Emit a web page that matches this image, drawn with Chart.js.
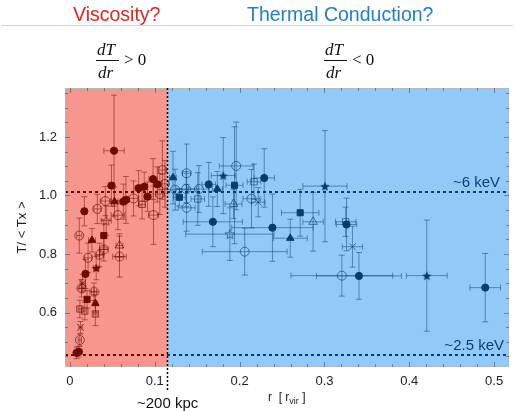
<!DOCTYPE html>
<html>
<head>
<meta charset="utf-8">
<script src="https://cdn.jsdelivr.net/npm/chart.js@4.4.0/dist/chart.umd.min.js"></script>
<style>
  body { margin: 0; background: #fff; font-family: "Liberation Sans", Arial, sans-serif; }
  #wrap { position: relative; width: 515px; height: 411px; overflow: hidden; }
  canvas { position: absolute; left: 0; top: 0; }
  .lbl { position: absolute; white-space: nowrap; line-height: 1; }
  .serif { font-family: "Liberation Serif", "Times New Roman", serif; font-size: 17px; color: #111; }
  .it { font-style: italic; }
  .bar { position: absolute; height: 1px; background: #111; }
</style>
</head>
<body>
<div id="wrap">
  <canvas id="chart" width="515" height="411"></canvas>
  <div class="lbl" style="left:73px;top:5px;font-size:19.5px;color:#e3261c;">Viscosity?</div>
  <div class="lbl" style="left:247px;top:5px;font-size:19.5px;color:#1f80c2;">Thermal Conduction?</div>
  <div style="position:absolute;left:2px;top:25px;width:511px;height:1px;background:#d0d0d0;"></div>

  <div class="lbl serif it" style="left:97px;top:41px;">dT</div>
  <div class="bar" style="left:96px;top:60px;width:23px;"></div>
  <div class="lbl serif it" style="left:98px;top:64px;">dr</div>
  <div class="lbl serif" style="left:124px;top:51px;">&gt; 0</div>

  <div class="lbl serif it" style="left:325px;top:41px;">dT</div>
  <div class="bar" style="left:324px;top:60px;width:23px;"></div>
  <div class="lbl serif it" style="left:326px;top:64px;">dr</div>
  <div class="lbl serif" style="left:352px;top:51px;">&lt; 0</div>

  <div class="lbl" style="left:268px;top:391px;font-size:12px;color:#222;">r &nbsp;[ r<sub style="font-size:9px;">vir</sub> ]</div>
  <div class="lbl" style="left:137px;top:395px;font-size:15px;color:#111;">~200 kpc</div>
</div>
<script>
// r in units of r_vir, T / <Tx>, and symmetric errors: [r, T, rErr, TErr]
const filledCircles = [
  [0.052, 1.153, 0.012, 0.19], [0.049, 1.034, 0.004, 0.07], [0.017, 0.946, 0.003, 0.05],
  [0.063, 0.979, 0.004, 0.06], [0.066, 0.985, 0.004, 0.08], [0.081, 1.025, 0.004, 0.06],
  [0.0876, 1.030, 0.004, 0.05], [0.0915, 0.996, 0.004, 0.05], [0.098, 1.056, 0.005, 0.07],
  [0.103, 1.038, 0.004, 0.06], [0.0183, 0.732, 0.003, 0.05], [0.0078, 0.462, 0.003, 0.02],
  [0.0105, 0.466, 0.004, 0.018],
  [0.1636, 1.038, 0.008, 0.075], [0.1685, 0.910, 0.035, 0.085], [0.229, 1.060, 0.012, 0.1],
  [0.2387, 0.890, 0.048, 0.115], [0.326, 0.901, 0.012, 0.09], [0.3407, 0.725, 0.05, 0.08],
  [0.4895, 0.685, 0.018, 0.117]
];
const filledTriangles = [
  [0.0526, 0.979, 0.004, 0.05], [0.026, 0.847, 0.004, 0.04], [0.030, 0.631, 0.002, 0.03],
  [0.1215, 1.061, 0.004, 0.09], [0.1737, 1.022, 0.006, 0.06], [0.2597, 0.854, 0.02, 0.065]
];
const filledSquares = [
  [0.040, 0.863, 0.003, 0.04], [0.0202, 0.645, 0.003, 0.03], [0.129, 0.994, 0.007, 0.03],
  [0.194, 1.035, 0.01, 0.2], [0.2714, 0.941, 0.022, 0.08]
];
const filledStars = [
  [0.031, 0.752, 0.003, 0.04], [0.1807, 1.068, 0.014, 0.13], [0.3006, 1.032, 0.026, 0.19],
  [0.4206, 0.726, 0.024, 0.19]
];
const openCircles = [
  [0.011, 0.863, 0.003, 0.06], [0.0323, 0.954, 0.004, 0.05], [0.0417, 0.981, 0.006, 0.05],
  [0.0565, 0.933, 0.008, 0.05], [0.0985, 0.933, 0.006, 0.1], [0.109, 1.087, 0.004, 0.1],
  [0.0117, 0.506, 0.002, 0.02], [0.0214, 0.787, 0.004, 0.05], [0.075, 0.990, 0.006, 0.06],
  [0.106, 1.005, 0.005, 0.07], [0.112, 1.04, 0.004, 0.08],
  [0.1375, 1.076, 0.005, 0.1], [0.1375, 0.958, 0.01, 0.08], [0.137, 1.022, 0.012, 0.06],
  [0.152, 1.022, 0.012, 0.08], [0.196, 1.101, 0.02, 0.15], [0.214, 0.989, 0.01, 0.1],
  [0.3205, 0.726, 0.06, 0.07], [0.206, 0.808, 0.05, 0.08], [0.124, 1.02, 0.015, 0.07]
];
const circleCrosses = [
  [0.040, 0.816, 0.005, 0.04], [0.0584, 0.791, 0.008, 0.07], [0.0284, 0.671, 0.003, 0.03],
  [0.0137, 0.683, 0.003, 0.03], [0.035, 0.797, 0.004, 0.04]
];
const openTriangles = [
  [0.0584, 0.829, 0.004, 0.04], [0.1928, 0.971, 0.01, 0.05], [0.2866, 0.910, 0.012, 0.1]
];
const openSquares = [
  [0.0117, 0.612, 0.002, 0.03], [0.0175, 0.605, 0.002, 0.03], [0.030, 0.595, 0.002, 0.04],
  [0.1507, 0.988, 0.008, 0.09], [0.217, 1.047, 0.008, 0.06], [0.325, 0.910, 0.012, 0.05],
  [0.085, 0.97, 0.004, 0.05]
];
const crosses = [
  [0.0125, 0.549, 0.002, 0.02], [0.222, 0.977, 0.008, 0.05], [0.333, 0.825, 0.012, 0.07],
  [0.015, 0.70, 0.003, 0.03]
];
const openStars = [
  [0.0428, 0.914, 0.006, 0.05], [0.1885, 0.868, 0.052, 0.09]
];

const splitR = 0.115;          // ~200 kpc
const refLevels = [1.012, 0.455];
const refLabels = ['~6 keV', '~2.5 keV'];
const xTicks = [0, 0.1, 0.2, 0.3, 0.4, 0.5];

// --- marker images ---
function starCanvas(filled, r) {
  const s = Math.ceil(r * 2 + 2);
  const c = document.createElement('canvas');
  c.width = c.height = s;
  const g = c.getContext('2d');
  g.translate(s / 2, s / 2 + 0.5);
  g.beginPath();
  for (let i = 0; i < 10; i++) {
    const rr = i % 2 ? r * 0.45 : r;
    const a = -Math.PI / 2 + i * Math.PI / 5;
    g.lineTo(rr * Math.cos(a), rr * Math.sin(a));
  }
  g.closePath();
  if (filled) { g.fillStyle = '#000'; g.fill(); }
  else { g.strokeStyle = 'rgba(0,0,0,0.65)'; g.lineWidth = 1; g.stroke(); }
  return c;
}
function circleCrossCanvas(r) {
  const s = Math.ceil(r * 2 + 2);
  const c = document.createElement('canvas');
  c.width = c.height = s;
  const g = c.getContext('2d');
  g.translate(s / 2, s / 2);
  g.strokeStyle = 'rgba(0,0,0,0.65)';
  g.lineWidth = 1;
  g.beginPath(); g.arc(0, 0, r, 0, Math.PI * 2);
  g.moveTo(-r, 0); g.lineTo(r, 0); g.moveTo(0, -r); g.lineTo(0, r);
  g.stroke();
  return c;
}

const toPts = arr => arr.map(([x, y, xErr, yErr]) => ({ x, y, xErr, yErr }));
const open = 'rgba(0,0,0,0.65)';

function series(data, style, radius, filled) {
  return {
    data: toPts(data),
    pointStyle: style,
    pointRadius: radius,
    backgroundColor: filled ? '#000' : 'transparent',
    borderColor: filled ? '#000' : open,
    borderWidth: 1,
    showLine: false
  };
}

const errorBars = {
  id: 'errorBars',
  beforeDatasetsDraw(chart) {
    const { ctx, chartArea, scales: { x, y } } = chart;
    ctx.save();
    ctx.beginPath();
    ctx.rect(chartArea.left, chartArea.top, chartArea.right - chartArea.left, chartArea.bottom - chartArea.top);
    ctx.clip();
    ctx.strokeStyle = 'rgba(0,0,0,0.5)';
    ctx.lineWidth = 1;
    chart.data.datasets.forEach(ds => {
      ds.data.forEach(p => {
        const px = x.getPixelForValue(p.x), py = y.getPixelForValue(p.y);
        const x0 = x.getPixelForValue(p.x - p.xErr), x1 = x.getPixelForValue(p.x + p.xErr);
        const y0 = y.getPixelForValue(p.y - p.yErr), y1 = y.getPixelForValue(p.y + p.yErr);
        ctx.beginPath();
        ctx.moveTo(x0, py); ctx.lineTo(x1, py);
        ctx.moveTo(x0, py - 3); ctx.lineTo(x0, py + 3);
        ctx.moveTo(x1, py - 3); ctx.lineTo(x1, py + 3);
        ctx.moveTo(px, y0); ctx.lineTo(px, y1);
        ctx.moveTo(px - 3, y0); ctx.lineTo(px + 3, y0);
        ctx.moveTo(px - 3, y1); ctx.lineTo(px + 3, y1);
        ctx.stroke();
      });
    });
    ctx.restore();
  },
  afterDatasetsDraw(chart) {
    const { ctx, chartArea: a, scales: { x, y } } = chart;
    ctx.save();
    // reference temperature levels
    ctx.strokeStyle = '#000';
    ctx.lineWidth = 2;
    ctx.setLineDash([3, 3]);
    refLevels.forEach(v => {
      const py = y.getPixelForValue(v);
      ctx.beginPath(); ctx.moveTo(a.left, py); ctx.lineTo(a.right, py); ctx.stroke();
    });
    ctx.setLineDash([]);
    ctx.fillStyle = '#000';
    ctx.font = '15px "Liberation Sans", Arial, sans-serif';
    ctx.textAlign = 'right';
    ctx.textBaseline = 'alphabetic';
    ctx.fillText(refLabels[0], a.right - 9, y.getPixelForValue(refLevels[0]) - 5);
    ctx.fillText(refLabels[1], a.right - 5, y.getPixelForValue(refLevels[1]) - 5);

    // translucent regions
    const sx = x.getPixelForValue(splitR);
    ctx.fillStyle = 'rgba(240,20,5,0.45)';
    ctx.fillRect(a.left, a.top, sx - a.left, a.bottom - a.top);
    ctx.fillStyle = 'rgba(10,138,242,0.45)';
    ctx.fillRect(sx, a.top, a.right - sx, a.bottom - a.top);

    // frame and inner minor ticks
    ctx.strokeStyle = '#b8b8b8';
    ctx.lineWidth = 1;
    ctx.strokeRect(a.left + 0.5, a.top + 0.5, a.right - a.left - 1, a.bottom - a.top - 1);
    ctx.strokeStyle = 'rgba(70,70,70,0.55)';
    ctx.beginPath();
    for (let i = 0; i <= 25; i++) {
      const px = Math.round(x.getPixelForValue(i * 0.02)) + 0.5;
      const len = i % 5 === 0 ? 5 : 3;
      ctx.moveTo(px, a.top); ctx.lineTo(px, a.top + len);
      ctx.moveTo(px, a.bottom); ctx.lineTo(px, a.bottom - len);
    }
    for (let i = 9; i <= 27; i++) {
      const py = Math.round(y.getPixelForValue(i * 0.05)) + 0.5;
      const len = i % 4 === 0 ? 5 : 3;
      ctx.moveTo(a.left, py); ctx.lineTo(a.left + len, py);
      ctx.moveTo(a.right, py); ctx.lineTo(a.right - len, py);
    }
    ctx.stroke();

    // ~200 kpc boundary
    ctx.strokeStyle = '#000';
    ctx.lineWidth = 1.5;
    ctx.setLineDash([2, 2]);
    ctx.beginPath(); ctx.moveTo(sx, a.top); ctx.lineTo(sx, a.bottom + 24); ctx.stroke();
    ctx.restore();
  }
};

new Chart(document.getElementById('chart'), {
  type: 'scatter',
  data: {
    datasets: [
      series(openCircles, 'circle', 4.5, false),
      series(openSquares, 'rect', 4.5, false),
      series(openTriangles, 'triangle', 5, false),
      series(circleCrosses, circleCrossCanvas(4.5), 4.5, false),
      series(crosses, 'crossRot', 5, false),
      series(openStars, starCanvas(false, 5), 5, false),
      series(filledCircles, 'circle', 3.6, true),
      series(filledSquares, 'rect', 4.3, true),
      series(filledTriangles, 'triangle', 4.3, true),
      series(filledStars, starCanvas(true, 5), 5, true)
    ]
  },
  options: {
    responsive: false,
    animation: false,
    events: [],
    layout: { padding: { left: 0, top: 88, right: 2, bottom: 0 } },
    plugins: { legend: { display: false }, tooltip: { enabled: false } },
    scales: {
      x: {
        type: 'linear',
        min: -0.0058, max: 0.5175,
        afterFit(scale) { scale.height = 44; },
        afterBuildTicks(scale) { scale.ticks = xTicks.map(v => ({ value: v })); },
        grid: { display: false, drawTicks: false },
        border: { display: false },
        ticks: { padding: 7, color: '#222', font: { size: 13, family: '"Liberation Sans", Arial, sans-serif' } }
      },
      y: {
        type: 'linear',
        min: 0.4137, max: 1.3675,
        afterFit(scale) { scale.width = 65; },
        grid: { display: false, drawTicks: false },
        border: { display: false },
        ticks: { stepSize: 0.2, includeBounds: false, padding: 8, color: '#222',
                 font: { size: 13, family: '"Liberation Sans", Arial, sans-serif' } },
        title: { display: true, text: 'T/ < Tx >', color: '#222', padding: { top: 15, bottom: 0 },
                 font: { size: 13, family: '"Liberation Sans", Arial, sans-serif' } }
      }
    }
  },
  plugins: [errorBars]
});
</script>
</body>
</html>
